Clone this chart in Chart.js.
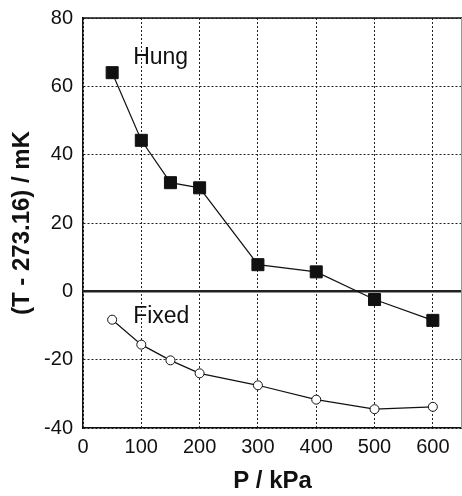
<!DOCTYPE html>
<html>
<head>
<meta charset="utf-8">
<script src="https://cdn.jsdelivr.net/npm/chart.js@4"></script>
<style>
    html, body { margin: 0; padding: 0; background: #fff; }
    #wrap { width: 462px; height: 496px; }
</style>
</head>
<body>
<div id="wrap"><canvas id="tpChart"></canvas></div>
<script>
// Data
const pressures = [50, 100, 150, 200, 300, 400, 500, 600];
const hungValues = [64, 44.2, 31.8, 30.3, 7.8, 5.7, -2.4, -8.5];
const fixedValues = [-8.3, -15.6, -20.2, -24, -27.5, -31.7, -34.5, -33.8];
const yTicks = [-40, -20, 0, 20, 40, 60, 80];
const xTicks = [0, 100, 200, 300, 400, 500, 600];

// Series names drawn inside the plot, at data coordinates
const seriesLabels = [
    { text: 'Hung', x: 86, y: 68.3 },
    { text: 'Fixed', x: 86, y: -7.4 }
];

function toPoints(values) {
    return pressures.map((p, i) => ({ x: p, y: values[i] }));
}

// Zero line, frame and in-plot labels
const extrasPlugin = {
    id: 'extras',
    beforeDatasetsDraw(chart) {
        const { ctx, chartArea, scales } = chart;
        const y0 = scales.y.getPixelForValue(0);
        ctx.save();
        ctx.strokeStyle = '#222';
        ctx.lineWidth = 2.5;
        ctx.beginPath();
        ctx.moveTo(chartArea.left, y0);
        ctx.lineTo(chartArea.right, y0);
        ctx.stroke();
        ctx.lineWidth = 1.5;
        ctx.strokeStyle = '#111';
        ctx.beginPath();
        ctx.moveTo(chartArea.left, chartArea.top);
        ctx.lineTo(chartArea.right, chartArea.top);
        ctx.stroke();
        ctx.strokeStyle = '#999';
        ctx.lineWidth = 1;
        ctx.beginPath();
        ctx.moveTo(chartArea.right - 0.5, chartArea.top);
        ctx.lineTo(chartArea.right - 0.5, chartArea.bottom);
        ctx.stroke();
        ctx.restore();
    },
    afterDatasetsDraw(chart) {
        const { ctx, scales } = chart;
        ctx.save();
        ctx.fillStyle = '#111';
        ctx.font = '23px "Liberation Sans", Arial, sans-serif';
        ctx.textAlign = 'left';
        ctx.textBaseline = 'middle';
        seriesLabels.forEach(l => {
            ctx.fillText(l.text, scales.x.getPixelForValue(l.x), scales.y.getPixelForValue(l.y));
        });
        ctx.restore();
    }
};

const tickFont = { family: '"Liberation Sans", Arial, sans-serif', size: 20 };
const titleFont = { family: '"Liberation Sans", Arial, sans-serif', size: 24, weight: 'bold' };

new Chart(document.getElementById('tpChart'), {
    type: 'scatter',
    data: {
        datasets: [{
            label: 'Hung',
            data: toPoints(hungValues),
            showLine: true,
            borderColor: '#111',
            borderWidth: 1.2,
            pointStyle: 'rect',
            pointRadius: 8.5,
            pointHoverRadius: 8.5,
            pointBackgroundColor: '#111',
            pointBorderColor: '#111',
            pointBorderWidth: 1
        }, {
            label: 'Fixed',
            data: toPoints(fixedValues),
            showLine: true,
            borderColor: '#111',
            borderWidth: 1.2,
            pointStyle: 'circle',
            pointRadius: 4.5,
            pointHoverRadius: 4.5,
            pointBackgroundColor: '#fff',
            pointBorderColor: '#111',
            pointBorderWidth: 1
        }]
    },
    options: {
        responsive: true,
        maintainAspectRatio: false,
        animation: false,
        layout: {
            autoPadding: false,
            padding: { top: 18, right: 0, bottom: 0, left: 0 }
        },
        plugins: {
            legend: { display: false },
            tooltip: { enabled: false }
        },
        scales: {
            x: {
                type: 'linear',
                min: 0,
                max: 650,
                afterBuildTicks: scale => { scale.ticks = xTicks.map(v => ({ value: v })); },
                afterFit: scale => {
                    scale.height = 68;
                    scale.paddingLeft = 0;
                    scale.paddingRight = 0;
                },
                ticks: { color: '#111', font: tickFont, padding: 7, maxRotation: 0 },
                grid: { color: '#222', lineWidth: 1, drawTicks: false },
                border: { display: true, color: '#111', width: 1.5, dash: [2, 2] },
                title: { display: true, text: 'P / kPa', color: '#111', font: titleFont, padding: { top: 0, bottom: 0 } }
            },
            y: {
                type: 'linear',
                min: -40,
                max: 80,
                afterBuildTicks: scale => { scale.ticks = yTicks.map(v => ({ value: v })); },
                afterFit: scale => {
                    scale.width = 83;
                    scale.paddingTop = 0;
                    scale.paddingBottom = 0;
                },
                ticks: { color: '#111', font: tickFont, padding: 10 },
                grid: { color: '#222', lineWidth: 1, drawTicks: false },
                border: { display: true, color: '#111', width: 1.5, dash: [2, 2] },
                title: { display: true, text: '(T - 273.16) / mK', color: '#111', font: titleFont, padding: { top: 8, bottom: 0 } }
            }
        }
    },
    plugins: [extrasPlugin]
});
</script>
</body>
</html>
